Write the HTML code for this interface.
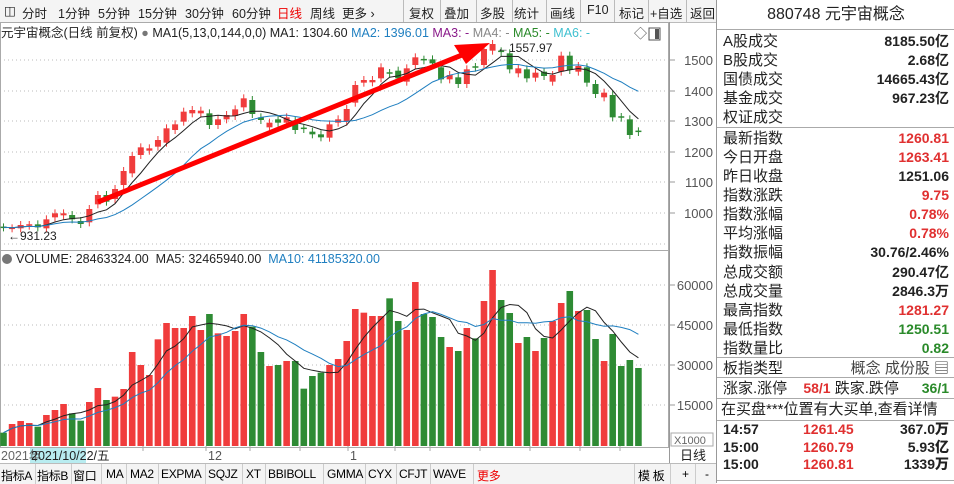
<!DOCTYPE html>
<html><head><meta charset="utf-8"><style>
body{margin:0;width:954px;height:483px;overflow:hidden;background:#fff;font-family:"Liberation Sans","Noto Sans CJK SC",sans-serif;position:relative}
.tb{position:absolute;left:0;top:0;width:716px;height:22px;background:#f4f4f4;border-bottom:1px solid #bbb;font-size:12.5px;color:#222}
.tb span{position:absolute;top:3px}
.sep{position:absolute;top:0;width:1px;height:22px;background:#bbb}
.rp{position:absolute;left:716px;top:0;width:238px;height:483px;border-left:1px solid #999;font-size:15px;color:#222}
.r{position:absolute;left:6px;width:226px;height:19px;line-height:19px}
.r b{position:absolute;right:0;top:0;font-size:14px}
.hl{position:absolute;left:0;width:238px;height:1px;background:#aaa}
.red{color:#e03030}.grn{color:#2a8a2a}
.bt{position:absolute;left:0;top:463px;width:716px;height:20px;background:#f4f4f4;border-top:1px solid #bbb;font-size:12px;letter-spacing:-0.3px}
.bt span{position:absolute;top:3px}
.bs{position:absolute;top:0;width:1px;height:20px;background:#ccc}
</style></head><body>
<div class="tb">
<span style="left:4px">◫</span><span style="left:22px">分时</span><span style="left:58px">1分钟</span><span style="left:98px">5分钟</span><span style="left:138px">15分钟</span><span style="left:185px">30分钟</span><span style="left:232px">60分钟</span><span style="left:277px;color:#e00">日线</span><span style="left:310px">周线</span><span style="left:342px">更多 ›</span>
<div class="sep" style="left:403px"></div><div class="sep" style="left:440px"></div><div class="sep" style="left:476px"></div><div class="sep" style="left:512px"></div><div class="sep" style="left:546px"></div><div class="sep" style="left:580px"></div><div class="sep" style="left:614px"></div><div class="sep" style="left:648px"></div><div class="sep" style="left:686px"></div>
<span style="left:409px">复权</span><span style="left:444px">叠加</span><span style="left:480px">多股</span><span style="left:514px">统计</span><span style="left:550px">画线</span><span style="left:587px">F10</span><span style="left:619px">标记</span><span style="left:650px">+自选</span><span style="left:690px">返回</span>
</div>
<svg id="s" width="716" height="483" style="position:absolute;left:0;top:0" font-family="Liberation Sans, Noto Sans CJK SC, sans-serif"></svg>
<div class="bt">
<span style="left:1px">指标A</span><div class="bs" style="left:35px"></div><span style="left:37px">指标B</span><div class="bs" style="left:71px"></div><span style="left:73px">窗口</span><div class="bs" style="left:101px"></div><span style="left:106px">MA</span><div class="bs" style="left:126px"></div><span style="left:130px">MA2</span><div class="bs" style="left:158px"></div><span style="left:161px">EXPMA</span><div class="bs" style="left:205px"></div><span style="left:208px">SQJZ</span><div class="bs" style="left:242px"></div><span style="left:246px">XT</span><div class="bs" style="left:265px"></div><span style="left:268px">BBIBOLL</span><div class="bs" style="left:323px"></div><span style="left:327px">GMMA</span><div class="bs" style="left:365px"></div><span style="left:368px">CYX</span><div class="bs" style="left:396px"></div><span style="left:399px">CFJT</span><div class="bs" style="left:430px"></div><span style="left:433px">WAVE</span><div class="bs" style="left:473px"></div><span style="left:477px;color:#e00">更多</span><div class="bs" style="left:634px"></div><span style="left:638px">模 板</span><div class="bs" style="left:670px"></div><span style="left:682px">+</span><div class="bs" style="left:695px"></div><span style="left:705px">-</span>
</div>
<div class="rp">
<div class="r" style="top:5px;text-align:center;font-size:16px">880748 元宇宙概念</div>
<div class="hl" style="top:29px"></div>
<div class="r" style="top:32px">A股成交<b>8185.50亿</b></div>
<div class="r" style="top:51px">B股成交<b>2.68亿</b></div>
<div class="r" style="top:70px">国债成交<b>14665.43亿</b></div>
<div class="r" style="top:89px">基金成交<b>967.23亿</b></div>
<div class="r" style="top:108px">权证成交</div>
<div class="hl" style="top:127px"></div>
<div class="r" style="top:129px">最新指数<b class="red">1260.81</b></div>
<div class="r" style="top:148px">今日开盘<b class="red">1263.41</b></div>
<div class="r" style="top:167px">昨日收盘<b>1251.06</b></div>
<div class="r" style="top:186px">指数涨跌<b class="red">9.75</b></div>
<div class="r" style="top:205px">指数涨幅<b class="red">0.78%</b></div>
<div class="r" style="top:224px">平均涨幅<b class="red">0.78%</b></div>
<div class="r" style="top:243px">指数振幅<b>30.76/2.46%</b></div>
<div class="r" style="top:263px">总成交额<b>290.47亿</b></div>
<div class="r" style="top:282px">总成交量<b>2846.3万</b></div>
<div class="r" style="top:301px">最高指数<b class="red">1281.27</b></div>
<div class="r" style="top:320px">最低指数<b class="grn">1250.51</b></div>
<div class="r" style="top:339px">指数量比<b class="grn">0.82</b></div>
<div class="hl" style="top:357px"></div>
<div class="r" style="top:359px">板指类型<b style="font-weight:normal;font-size:15px;color:#444">概念 成份股 ▤</b></div>
<div class="hl" style="top:377px"></div>
<div class="r" style="top:379px">涨家.涨停 <span class="red" style="font-weight:bold;font-size:14px;margin-left:12px">58/1</span> 跌家.跌停<b class="grn">36/1</b></div>
<div class="hl" style="top:398px"></div>
<div class="r" style="top:400px;font-size:15px;left:4px">在买盘***位置有大买单,查看详情</div>
<div class="hl" style="top:420px"></div>
<div class="r" style="top:420px;font-weight:bold;font-size:14px">14:57<span class="red" style="position:absolute;left:80px">1261.45</span><b>367.0万</b></div>
<div class="r" style="top:438px;font-weight:bold;font-size:14px">15:00<span class="red" style="position:absolute;left:80px">1260.79</span><b>5.93亿</b></div>
<div class="r" style="top:455px;font-weight:bold;font-size:14px">15:00<span class="red" style="position:absolute;left:80px">1260.81</span><b>1339万</b></div>
<div class="hl" style="top:480px"></div>
</div>
<script>
var C=[[592,592,'g'],[595,595,'r'],[585,595,'r'],[585,587,'r'],[583,592,'g'],[568,595,'r'],[550,562,'r'],[550,556,'r'],[555,568,'g'],[573,582,'g'],[537,577,'r'],[495,523,'r'],[495,515,'g'],[477,507,'r'],[423,465,'r'],[378,430,'r'],[352,375,'r'],[355,362,'r'],[330,350,'r'],[295,338,'r'],[283,300,'r'],[245,275,'r'],[240,250,'r'],[242,250,'r'],[250,285,'g'],[268,285,'r'],[255,268,'r'],[238,258,'r'],[205,232,'r'],[210,252,'g'],[262,270,'g'],[278,292,'r'],[268,278,'g'],[262,278,'r'],[272,300,'g'],[295,297,'g'],[305,313,'g'],[313,322,'g'],[283,323,'r'],[268,278,'r'],[237,275,'r'],[165,218,'r'],[150,158,'r'],[150,157,'r'],[112,145,'r'],[129,131,'g'],[122,145,'g'],[115,155,'r'],[82,105,'r'],[89,91,'g'],[88,100,'g'],[112,148,'g'],[135,148,'r'],[142,162,'g'],[118,162,'r'],[111,113,'g'],[57,105,'r'],[42,62,'r'],[64,66,'g'],[70,118,'g'],[115,130,'r'],[118,145,'g'],[128,143,'r'],[125,138,'g'],[135,155,'r'],[77,125,'r'],[77,120,'g'],[108,125,'r'],[112,158,'g'],[162,192,'g'],[188,202,'r'],[195,262,'g'],[261,263,'g'],[268,315,'g'],[304,306,'g']];
var V=[[548,'g'],[522,'r'],[513,'r'],[519,'r'],[530,'g'],[495,'r'],[480,'r'],[462,'r'],[490,'g'],[512,'g'],[456,'r'],[414,'r'],[450,'g'],[440,'r'],[417,'r'],[306,'r'],[345,'r'],[375,'r'],[268,'r'],[219,'r'],[234,'r'],[234,'r'],[198,'r'],[240,'r'],[192,'g'],[250,'r'],[258,'r'],[243,'r'],[192,'r'],[230,'g'],[306,'g'],[348,'r'],[345,'g'],[333,'r'],[333,'g'],[416,'g'],[378,'g'],[368,'g'],[345,'r'],[327,'r'],[273,'r'],[177,'r'],[188,'r'],[198,'r'],[198,'r'],[145,'g'],[213,'g'],[240,'r'],[96,'r'],[192,'g'],[201,'g'],[261,'g'],[291,'r'],[303,'g'],[234,'r'],[265,'g'],[153,'r'],[60,'r'],[150,'g'],[189,'g'],[279,'r'],[261,'g'],[303,'r'],[264,'g'],[213,'r'],[159,'r'],[123,'g'],[183,'r'],[180,'g'],[267,'g'],[333,'r'],[252,'g'],[348,'g'],[330,'g'],[354,'g']];
var R='#f03c3c',G='#2e8b34',h='';
function X(i){return 3.5+i*8.58}
[60,91,121,152,182,213,244].forEach(function(y){h+='<line x1="0" x2="668" y1="'+y+'" y2="'+y+'" stroke="#bbb" stroke-dasharray="1,3"/>'});
[285,325,365,405].forEach(function(y){h+='<line x1="0" x2="668" y1="'+y+'" y2="'+y+'" stroke="#bbb" stroke-dasharray="1,3"/>'});
h+='<rect x="0.5" y="22.5" width="668" height="425" fill="none" stroke="#aaa"/>';
h+='<line x1="0" x2="669" y1="250.5" y2="250.5" stroke="#aaa"/>';
h+='<line x1="669.5" x2="669.5" y1="22" y2="463" stroke="#999"/>';
h+='<line x1="716.5" x2="716.5" y1="22" y2="463" stroke="#999"/>';
var pl=[[1500,60],[1400,91],[1300,121],[1200,152],[1100,182],[1000,213]];
pl.forEach(function(p){h+='<text x="713" y="'+(p[1]+5)+'" font-size="13" fill="#555" text-anchor="end">'+p[0]+'</text><line x1="669" x2="675" y1="'+p[1]+'" y2="'+p[1]+'" stroke="#999"/>'});
[[60000,285],[45000,325],[30000,365],[15000,405]].forEach(function(p){h+='<text x="713" y="'+(p[1]+5)+'" font-size="13" fill="#555" text-anchor="end">'+p[0]+'</text><line x1="669" x2="675" y1="'+p[1]+'" y2="'+p[1]+'" stroke="#999"/>'});
h+='<rect x="671" y="433" width="42" height="13" fill="#fff" stroke="#aaa"/><text x="674" y="444" font-size="11" fill="#666">X1000</text>';
var cl=[],vl=[];
C.forEach(function(c,i){var t=30+c[0]/3,b=30+c[1]/3,col=c[2]=='r'?R:G,x=X(i);
 h+='<line x1="'+x+'" x2="'+x+'" y1="'+(t-4)+'" y2="'+(b+4)+'" stroke="'+col+'"/>';
 if(b-t<1.5)h+='<line x1="'+(x-3)+'" x2="'+(x+3)+'" y1="'+t+'" y2="'+t+'" stroke="'+col+'" stroke-width="1.5"/>';
 else h+='<rect x="'+(x-3)+'" y="'+t+'" width="6" height="'+(b-t)+'" fill="'+col+'"/>';
 cl.push(c[2]=='r'?t:b);});
V.forEach(function(v,i){var t=250+v[0]/3,x=X(i);h+='<rect x="'+(x-3.3)+'" y="'+t+'" width="6.6" height="'+(446-t)+'" fill="'+(v[1]=='r'?R:G)+'"/>';vl.push(t);});
function ma(a,n,col){var p='';for(var i=0;i<a.length;i++){var k=Math.max(0,i-n+1),sm=0;for(var j=k;j<=i;j++)sm+=a[j];p+=(i?'L':'M')+X(i).toFixed(1)+','+(sm/(i-k+1)).toFixed(1);}h+='<path d="'+p+'" fill="none" stroke="'+col+'" stroke-width="1"/>';}
ma(cl,5,'#222');ma(cl,13,'#1f7fc0');ma(vl,5,'#222');ma(vl,10,'#1f7fc0');
h+='<line x1="98" y1="202" x2="462" y2="55" stroke="#f00" stroke-width="5"/><polygon points="490,43 454,45 466,64" fill="#f00"/>';
h+='<text x="497" y="52" font-size="12" fill="#222">←1557.97</text><text x="8" y="240" font-size="12" fill="#222">←931.23</text>';
h+='<text x="1" y="37" font-size="12.5" fill="#222">元宇宙概念(日线 前复权) <tspan fill="#777">●</tspan> MA1(5,13,0,144,0,0) MA1: 1304.60 <tspan fill="#1f7fc0">MA2: 1396.01</tspan> <tspan fill="#8a1a8a">MA3: -</tspan> <tspan fill="#888">MA4: -</tspan> <tspan fill="#2a8a2a">MA5: -</tspan> <tspan fill="#3fc0d0">MA6: -</tspan></text>';
h+='<text x="634" y="38" font-size="13" fill="#444">◇</text><rect x="649" y="28" width="11" height="12" fill="none" stroke="#555"/><rect x="655" y="29" width="4" height="10" fill="#555"/>';
h+='<circle cx="7" cy="259" r="5" fill="#777"/><text x="16" y="263" font-size="12.5" fill="#222">VOLUME: 28463324.00 &#160;MA5: 32465940.00 &#160;<tspan fill="#1f7fc0">MA10: 41185320.00</tspan></text>';
h+='<rect x="0" y="448" width="669" height="15" fill="#fff"/><rect x="30" y="448" width="56" height="15" fill="#b8ecf0"/>';
h+='<text x="1" y="460" font-size="12.5" fill="#666">2021年</text><text x="31" y="460" font-size="12.5" fill="#222">2021/10/22/五</text><text x="208" y="460" font-size="12.5" fill="#555">12</text><text x="350" y="460" font-size="12.5" fill="#555">1</text>';
[143,206,250,300,348,395,430,480,530,580,620].forEach(function(x){h+='<line x1="'+x+'" x2="'+x+'" y1="446" y2="451" stroke="#aaa"/>'});
h+='<text x="680" y="460" font-size="13" fill="#222">日线</text>';
document.getElementById('s').innerHTML=h;
</script>
</body></html>
